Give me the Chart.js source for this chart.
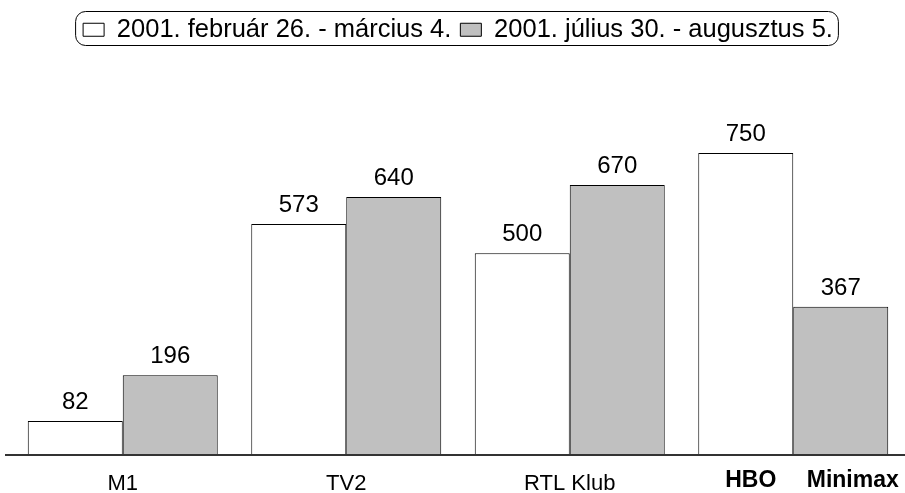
<!DOCTYPE html>
<html>
<head>
<meta charset="utf-8">
<script src="https://cdn.jsdelivr.net/npm/chart.js@4"></script>
<style>
  html, body { margin: 0; padding: 0; background: #fff; overflow: hidden; }
  #wrap { width: 905px; height: 493px; }
</style>
</head>
<body>
<div id="wrap"><canvas id="grafico"></canvas></div>
<script>
// adatok
const csatornak = ["M1", "TV2", "RTL Klub", ""];
const utolsoCimkek = ["HBO", "Minimax"];
const februar = [82, 573, 500, 750];
const julius = [196, 640, 670, 367];
const idoszakok = ["2001. február 26. - március 4.", "2001. július 30. - augusztus 5."];

const betu = "'Liberation Sans', Arial, sans-serif";

// értékek a oszlopok fölött
const ertekek = {
    id: "ertekek",
    afterDatasetsDraw(chart) {
        const ctx = chart.ctx;
        ctx.save();
        ctx.font = "24px " + betu;
        ctx.fillStyle = "#000";
        ctx.textAlign = "center";
        ctx.textBaseline = "alphabetic";
        chart.data.datasets.forEach((ds, i) => {
            chart.getDatasetMeta(i).data.forEach((bar, j) => {
                ctx.fillText(ds.data[j], bar.x, bar.y - 12);
            });
        });
        ctx.restore();
    }
};

// alapvonal + HBO / Minimax felirat
const eltolas = [5, 12];
const tengely = {
    id: "tengely",
    afterDraw(chart) {
        const ctx = chart.ctx;
        const y0 = chart.scales.y.getPixelForValue(0);
        ctx.save();
        ctx.strokeStyle = "#333";
        ctx.lineWidth = 2;
        ctx.beginPath();
        ctx.moveTo(5, y0 + 1);
        ctx.lineTo(chart.width, y0 + 1);
        ctx.stroke();

        const utolso = csatornak.length - 1;
        ctx.font = "bold 23px " + betu;
        ctx.fillStyle = "#000";
        ctx.textAlign = "center";
        ctx.textBaseline = "middle";
        utolsoCimkek.forEach((c, i) => {
            const bar = chart.getDatasetMeta(i).data[utolso];
            ctx.fillText(c, bar.x + eltolas[i], 481);
        });
        ctx.restore();
    }
};

// lekerekített keret a jelmagyarázat körül
const keret = {
    id: "keret",
    afterDraw(chart) {
        const boxes = chart.legend.legendHitBoxes;
        if (!boxes || !boxes.length) return;
        const ctx = chart.ctx;
        const left = boxes[0].left - 8;
        const last = boxes[boxes.length - 1];
        const right = last.left + last.width + 5;
        const top = 11, h = 34;
        ctx.save();
        ctx.strokeStyle = "#000";
        ctx.lineWidth = 1;
        ctx.beginPath();
        ctx.roundRect(left + 0.5, top + 0.5, right - left, h, 10);
        ctx.stroke();
        ctx.restore();
    }
};

new Chart(document.getElementById("grafico").getContext("2d"), {
    type: "bar",
    data: {
        labels: csatornak,
        datasets: [{
            label: idoszakok[0],
            data: februar,
            backgroundColor: "#ffffff",
            borderColor: "#000000",
            borderWidth: 1
        }, {
            label: idoszakok[1],
            data: julius,
            backgroundColor: "#c0c0c0",
            borderColor: "#000000",
            borderWidth: 1
        }]
    },
    options: {
        responsive: true,
        maintainAspectRatio: false,
        animation: false,
        devicePixelRatio: 1,
        layout: { padding: { left: 11, right: 0, top: 8, bottom: -21 } },
        datasets: { bar: { categoryPercentage: 0.85, barPercentage: 1 } },
        scales: {
            x: {
                grid: { display: false, drawTicks: false },
                border: { display: false },
                ticks: {
                    color: "#000",
                    font: { family: betu, size: 22, lineHeight: 1 },
                    padding: 19,
                    maxRotation: 0
                }
            },
            y: {
                display: false,
                min: 0,
                max: 1000
            }
        },
        plugins: {
            legend: {
                position: "top",
                labels: {
                    color: "#000",
                    font: { family: betu, size: 25.5 },
                    boxWidth: 21,
                    boxHeight: 13,
                    padding: 9
                }
            },
            tooltip: { enabled: false }
        }
    },
    plugins: [ertekek, tengely, keret]
});
</script>
</body>
</html>
